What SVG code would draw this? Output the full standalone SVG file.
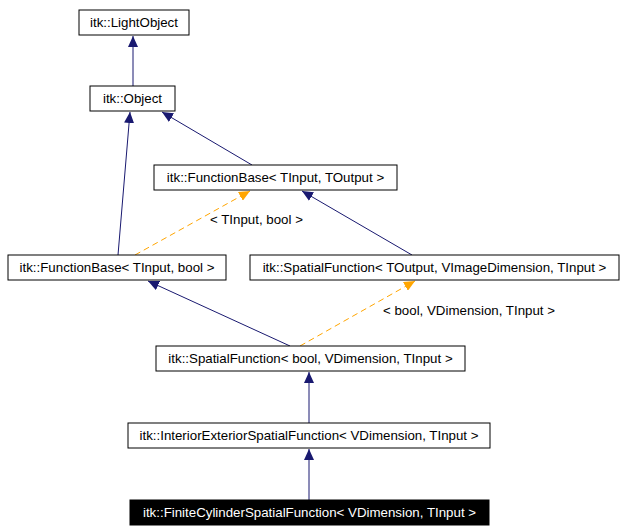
<svg xmlns="http://www.w3.org/2000/svg" width="626" height="532" viewBox="0 0 626 532">
<style>
.n rect{fill:#fff;stroke:#000;stroke-width:1}
.n text{font-family:"Liberation Sans",Arial,sans-serif;font-size:13.3px;text-anchor:middle;fill:#000}
#finite rect{fill:#000}
#finite text{fill:#fff}
.e{stroke:#191970;stroke-width:1;fill:none}
.t{stroke:#ffa500;stroke-width:1;fill:none;stroke-dasharray:6,4}
.lbl{font-family:"Liberation Sans",Arial,sans-serif;font-size:13.3px;fill:#000}
</style>
<defs>
<marker id="a" markerWidth="12" markerHeight="10" refX="11" refY="5" orient="auto" markerUnits="userSpaceOnUse"><path d="M0,0 L11,5 L0,10 Z" fill="#191970"/></marker>
<marker id="o" markerWidth="12" markerHeight="10" refX="11" refY="5" orient="auto" markerUnits="userSpaceOnUse"><path d="M0,0 L11,5 L0,10 Z" fill="#ffa500"/></marker>
</defs>
<rect width="626" height="532" fill="#fff"/>
<g id="edges">
<line class="e" x1="133" y1="86" x2="133" y2="36" marker-end="url(#a)"/>
<line class="e" x1="252" y1="165" x2="162" y2="112" marker-end="url(#a)"/>
<line class="e" x1="118" y1="255" x2="130" y2="112" marker-end="url(#a)"/>
<line class="t" x1="135" y1="255" x2="250" y2="191" marker-end="url(#o)"/>
<text class="lbl" x="210" y="224">&lt; TInput, bool &gt;</text>
<line class="e" x1="412" y1="255" x2="302" y2="191" marker-end="url(#a)"/>
<line class="e" x1="290" y1="346" x2="148" y2="281" marker-end="url(#a)"/>
<line class="t" x1="300" y1="346" x2="415" y2="281" marker-end="url(#o)"/>
<text class="lbl" x="383" y="315">&lt; bool, VDimension, TInput &gt;</text>
<line class="e" x1="309" y1="423" x2="309" y2="372" marker-end="url(#a)"/>
<line class="e" x1="309" y1="500" x2="309" y2="449" marker-end="url(#a)"/>
</g>
<g id="lightobject" class="n"><rect x="79" y="10" width="110" height="25"/><text x="134" y="27">itk::LightObject</text></g>
<g id="object" class="n"><rect x="90" y="86" width="85" height="25"/><text x="132.5" y="103">itk::Object</text></g>
<g id="fbto" class="n"><rect x="154" y="165" width="243" height="25"/><text x="275.5" y="182">itk::FunctionBase&lt; TInput, TOutput &gt;</text></g>
<g id="fbbool" class="n"><rect x="8" y="255" width="218" height="25"/><text x="117" y="272">itk::FunctionBase&lt; TInput, bool &gt;</text></g>
<g id="sfto" class="n"><rect x="250" y="255" width="369" height="25"/><text x="434.5" y="272">itk::SpatialFunction&lt; TOutput, VImageDimension, TInput &gt;</text></g>
<g id="sfbool" class="n"><rect x="156" y="346" width="309" height="25"/><text x="310.5" y="363">itk::SpatialFunction&lt; bool, VDimension, TInput &gt;</text></g>
<g id="interior" class="n"><rect x="128" y="423" width="362" height="25"/><text x="309" y="440">itk::InteriorExteriorSpatialFunction&lt; VDimension, TInput &gt;</text></g>
<g id="finite" class="n"><rect x="130" y="500" width="359" height="25"/><text x="309.5" y="517">itk::FiniteCylinderSpatialFunction&lt; VDimension, TInput &gt;</text></g>
</svg>
